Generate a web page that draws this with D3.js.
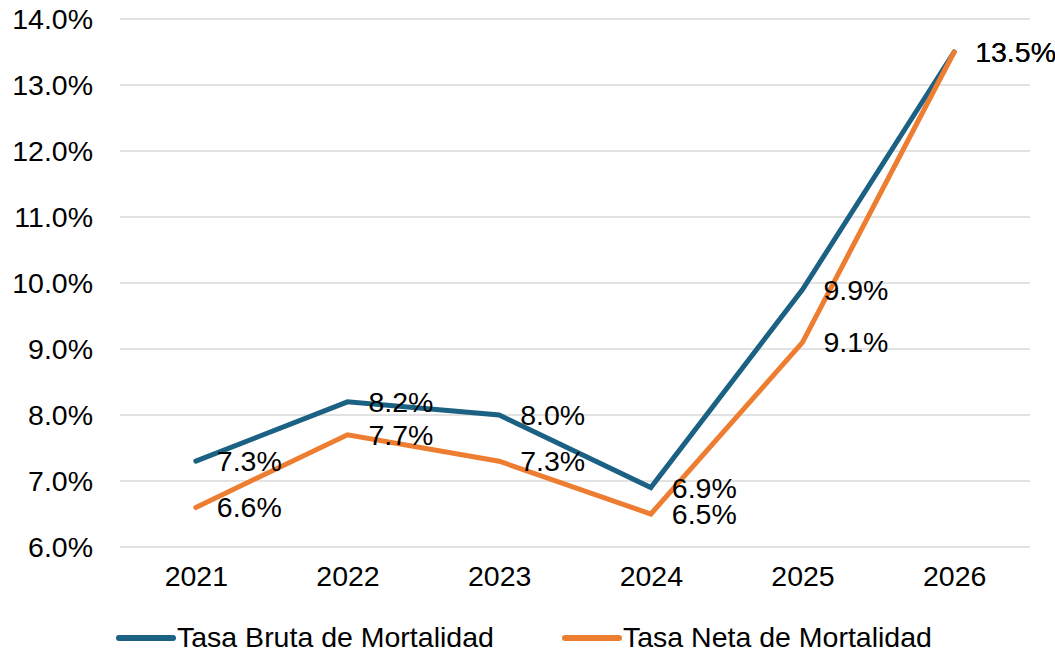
<!DOCTYPE html>
<html>
<head>
<meta charset="utf-8">
<script src="https://cdn.jsdelivr.net/npm/d3@7"></script>
<style>
  body { margin: 0; background: #fff; }
  text { font-family: "Liberation Sans", Arial, sans-serif; fill: #000; }
</style>
</head>
<body>
<div id="chart"></div>
<script>
const years = ['2021', '2022', '2023', '2024', '2025', '2026'];
const bruta = [7.3, 8.2, 8.0, 6.9, 9.9, 13.5];
const neta = [6.6, 7.7, 7.3, 6.5, 9.1, 13.5];
const yTicks = [6, 7, 8, 9, 10, 11, 12, 13, 14];

const series = [
  { name: 'Tasa Bruta de Mortalidad', values: bruta, color: '#1b6183' },
  { name: 'Tasa Neta de Mortalidad', values: neta, color: '#ed7d31' }
];

const width = 1055, height = 652;
const fontSize = 28.5;

const svg = d3.select('#chart')
  .append('svg')
  .attr('width', width)
  .attr('height', height);

const x = d3.scalePoint()
  .domain(years)
  .range([120, 1030])
  .padding(0.5);

const y = d3.scaleLinear()
  .domain([6, 14])
  .range([547, 19]);

// gridlines
svg.append('g')
  .selectAll('line')
  .data(yTicks)
  .enter().append('line')
  .attr('x1', 120)
  .attr('x2', 1030)
  .attr('y1', d => y(d))
  .attr('y2', d => y(d))
  .attr('stroke', '#d9d9d9')
  .attr('stroke-width', 1.5);

// y axis labels
const yAxis = d3.axisLeft(y)
  .tickValues(yTicks)
  .tickSize(0)
  .tickPadding(27)
  .tickFormat(d => d.toFixed(1) + '%');

svg.append('g')
  .attr('transform', 'translate(120,0)')
  .call(yAxis)
  .call(g => g.select('.domain').remove())
  .selectAll('text')
  .style('font-size', fontSize + 'px')
  .style('font-family', '"Liberation Sans", Arial, sans-serif')
  .attr('fill', '#000');

// x axis labels
const xAxis = d3.axisBottom(x).tickSize(0).tickPadding(19);

svg.append('g')
  .attr('transform', 'translate(0,547)')
  .call(xAxis)
  .call(g => g.select('.domain').remove())
  .selectAll('text')
  .style('font-size', fontSize + 'px')
  .style('font-family', '"Liberation Sans", Arial, sans-serif')
  .attr('fill', '#000');

const line = d3.line()
  .x((d, i) => x(years[i]))
  .y(d => y(d));

series.forEach(s => {
  svg.append('path')
    .datum(s.values)
    .attr('d', line)
    .attr('fill', 'none')
    .attr('stroke', s.color)
    .attr('stroke-width', 5)
    .attr('stroke-linecap', 'round')
    .attr('stroke-linejoin', 'miter');
});

// data labels
series.forEach(s => {
  svg.append('g')
    .selectAll('text')
    .data(s.values)
    .enter().append('text')
    .attr('x', (d, i) => x(years[i]) + 21)
    .attr('y', d => y(d))
    .attr('dy', '0.35em')
    .style('font-size', fontSize + 'px')
    .text(d => d.toFixed(1) + '%');
});

// legend
const legend = svg.append('g').attr('id', 'legend');
const legendX = [119, 565];

series.forEach((s, i) => {
  const g = legend.append('g').attr('transform', `translate(${legendX[i]},638)`);
  g.append('line')
    .attr('x1', 0)
    .attr('x2', 54)
    .attr('stroke', s.color)
    .attr('stroke-width', 6)
    .attr('stroke-linecap', 'round');
  g.append('text')
    .attr('x', 58)
    .attr('dy', '0.33em')
    .style('font-size', fontSize + 'px')
    .text(s.name);
});
</script>
</body>
</html>
